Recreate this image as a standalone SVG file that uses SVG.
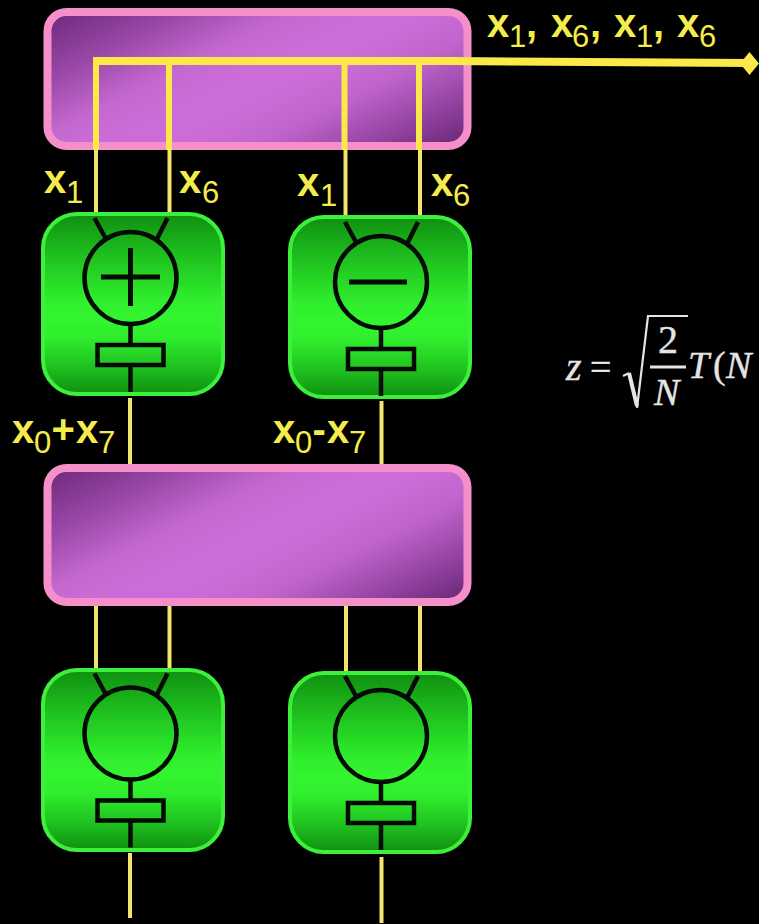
<svg xmlns="http://www.w3.org/2000/svg" width="759" height="924" viewBox="0 0 759 924">
<style>
.purple{stroke:#f58fca;stroke-width:8}
.green{stroke:#3cf03c;stroke-width:4}
.w{fill:none;stroke:#fbe94a;stroke-linecap:butt}
.t{fill:none;stroke:#f3e56c;stroke-width:4}
.k{fill:none;stroke:#050a05;stroke-width:4.5}
.bar{fill:none;stroke:#050a05;stroke-width:5}
.l{font-family:"Liberation Sans",Arial,sans-serif;font-weight:700;font-size:40px;fill:#f4ec4c}
.s{font-weight:400;font-size:31px}
.m{font-family:"Liberation Serif","Times New Roman",serif;fill:#e4e4e4;stroke:#e4e4e4;stroke-width:.4}
.i{font-style:italic}
.r{fill:none;stroke:#e4e4e4}
</style>
<defs>
<linearGradient id="p1" gradientUnits="userSpaceOnUse" x1="48" y1="12" x2="186" y2="284">
<stop offset="0" stop-color="#6a2878"/><stop offset=".2" stop-color="#9a48a8"/><stop offset=".36" stop-color="#c468d0"/><stop offset=".46" stop-color="#cc6cd8"/><stop offset=".58" stop-color="#cc6cd8"/><stop offset=".7" stop-color="#c064cc"/><stop offset=".84" stop-color="#9a48a8"/><stop offset="1" stop-color="#6a2878"/>
</linearGradient>
<linearGradient id="p2" gradientUnits="userSpaceOnUse" x1="48" y1="468" x2="186" y2="740">
<stop offset="0" stop-color="#6a2878"/><stop offset=".2" stop-color="#9a48a8"/><stop offset=".36" stop-color="#c468d0"/><stop offset=".46" stop-color="#cc6cd8"/><stop offset=".58" stop-color="#cc6cd8"/><stop offset=".7" stop-color="#c064cc"/><stop offset=".84" stop-color="#9a48a8"/><stop offset="1" stop-color="#6a2878"/>
</linearGradient>
<linearGradient id="g" x1="0" y1="0" x2="0" y2="1">
<stop offset="0" stop-color="#0f9010"/><stop offset=".25" stop-color="#20c420"/><stop offset=".48" stop-color="#30ee2d"/><stop offset=".58" stop-color="#33f52f"/><stop offset=".68" stop-color="#30ee2d"/><stop offset=".84" stop-color="#20c420"/><stop offset="1" stop-color="#0f9010"/>
</linearGradient>
<g id="inner">
<path class="k" d="M54 5L66 27M127 5L116 27"/>
<circle class="k" cx="90" cy="65" r="46"/>
<path class="k" d="M90 111V132M90 151V179"/>
<rect class="k" x="57" y="132" width="66" height="20"/>
</g>
</defs>
<rect width="759" height="924" fill="#000"/>
<g id="box-top"><rect class="purple" x="47.500" y="12" width="420" height="134" rx="19" fill="url(#p1)"/></g>
<g id="box-mid"><rect class="purple" x="47.500" y="468" width="420" height="134" rx="19" fill="url(#p2)"/></g>
<g id="unit-plus"><rect class="green" x="43" y="214" width="180" height="180" rx="34" fill="url(#g)"/><use href="#inner" x="40.500" y="213"/><path class="bar" d="M101 277H160M130.500 248V306"/></g>
<g id="unit-minus"><rect class="green" x="290" y="217" width="180" height="180" rx="34" fill="url(#g)"/><use href="#inner" x="291" y="217"/><path class="bar" d="M349 282H407"/></g>
<g id="unit-3"><rect class="green" x="43" y="670" width="180" height="180" rx="34" fill="url(#g)"/><use href="#inner" x="40.500" y="668.500"/></g>
<g id="unit-4"><rect class="green" x="290" y="673" width="180" height="179" rx="34" fill="url(#g)"/><use href="#inner" x="291" y="671"/></g>
<g id="connectors">
<path class="w" stroke-width="6" d="M96 150V61M169 150V61M344.500 150V61M419 150V61"/>
<path class="w" stroke-width="8" d="M93 61H450L749 63"/>
<path d="M749.500 52L759 63.500L749.500 75L740 63.500Z" fill="#fbe94a"/>
<path class="t" d="M96 150V212M169.500 150V212M345.500 150V215M420 150V215"/>
<path class="t" d="M130 398V464M381.500 401V464M96 606V668M169.500 606V668M346 606V671M420 606V671M130 853V918M381.500 857V923"/>
</g>
<g id="labels">
<text class="l" x="44" y="193">x<tspan class="s" x="66" dy="10">1</tspan></text>
<text class="l" x="179" y="193">x<tspan class="s" x="202" dy="10">6</tspan></text>
<text class="l" x="297" y="196">x<tspan class="s" x="320" dy="10">1</tspan></text>
<text class="l" x="431" y="196">x<tspan class="s" x="453" dy="10">6</tspan></text>
<text class="l" x="12" y="443">x<tspan class="s" x="34" dy="10">0</tspan><tspan x="51.500" dy="-10">+</tspan><tspan x="76">x</tspan><tspan class="s" x="98" dy="10">7</tspan></text>
<text class="l" x="273" y="443">x<tspan class="s" x="295" dy="10">0</tspan><tspan x="312.500" dy="-10">-</tspan><tspan x="327">x</tspan><tspan class="s" x="349" dy="10">7</tspan></text>
<text class="l" x="487" y="37">x<tspan class="s" x="509" dy="10">1</tspan><tspan x="526" dy="-10">,</tspan><tspan x="551">x</tspan><tspan class="s" x="572" dy="10">6</tspan><tspan x="590" dy="-10">,</tspan><tspan x="614">x</tspan><tspan class="s" x="636" dy="10">1</tspan><tspan x="653" dy="-10">,</tspan><tspan x="677">x</tspan><tspan class="s" x="699" dy="10">6</tspan></text>
</g>
<g id="formula">
<text class="m i" x="566" y="380" font-size="40">z</text>
<text class="m" x="590" y="380" font-size="38">=</text>
<path class="r" d="M623 376L629 373" stroke-width="2"/>
<path class="r" d="M629 373L637 406" stroke-width="4"/>
<path class="r" d="M637 408L648 316H688" stroke-width="2.200"/>
<path class="r" d="M650 367H686" stroke-width="3"/>
<text class="m" x="658" y="353" font-size="40">2</text>
<text class="m i" x="654" y="405" font-size="38">N</text>
<text class="m i" x="688" y="378" font-size="38">T</text>
<text class="m" x="713" y="378" font-size="38">(</text>
<text class="m i" x="726" y="378" font-size="38">N</text>
</g>
</svg>
